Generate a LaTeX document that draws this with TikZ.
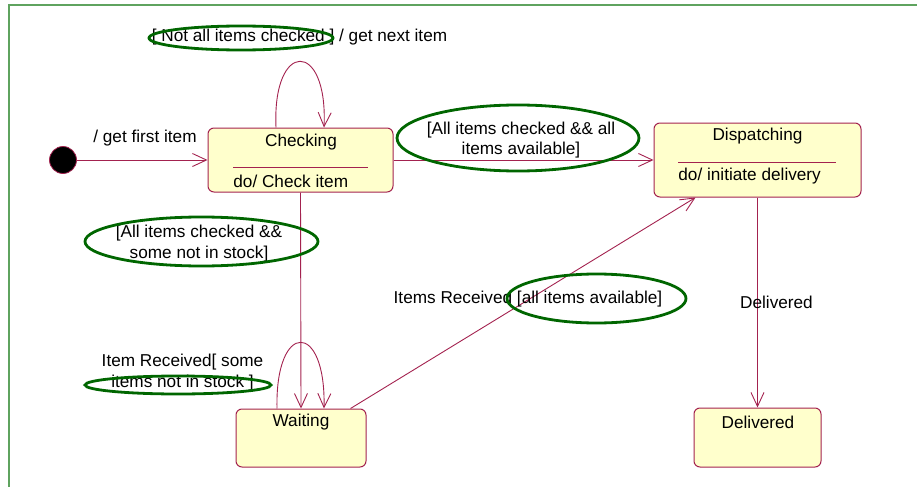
\documentclass[tikz,border=0pt]{standalone}
\usepackage{fontspec}
\setmainfont{Liberation Sans}
\usetikzlibrary{calc, shapes.geometric, arrows.meta}
\definecolor{StateFill}{HTML}{FFFFCC}
\definecolor{StateLine}{HTML}{A3224F}
\definecolor{GuardGreen}{HTML}{006600}
\definecolor{FrameGreen}{HTML}{5FA35F}
\tikzset{
    statebox/.style={draw=StateLine, fill=StateFill, rounded corners=3pt, line width=0.5pt, inner sep=0pt},
    trans/.style={draw=StateLine, line width=0.45pt, -{Straight Barb[length=7pt, width=6.5pt]}},
    lbl/.style={font=\fontsize{8.6}{10.3}\selectfont, inner sep=0pt, align=center},
    guard/.style={ellipse, draw=GuardGreen, line width=1.4pt, inner sep=0pt},
}
\begin{document}
\begin{tikzpicture}[x=0.5pt, y=-0.5pt]
    % =========================================
    % 1. Frame
    % =========================================
    \useasboundingbox (0,0) rectangle (917,487);
    \draw[FrameGreen, line width=1pt] (9,487) -- (9,5) -- (917,5);

    % =========================================
    % 2. States
    % =========================================
    \node[circle, fill=black, draw=StateLine, inner sep=0pt, minimum size=13.5pt] (init) at (63,160) {};

    \node[statebox, minimum width=92.5pt, minimum height=32pt] (checking) at (300.5,160) {};
    \node[lbl] (checkingT) at (301,142) {Checking};
    \draw[StateLine, line width=0.4pt] (233,167) -- (368,167);
    \node[lbl, anchor=west] (checkingDo) at (233,181) {do/ Check item};

    \node[statebox, minimum width=103.5pt, minimum height=37pt] (dispatching) at (757.5,160) {};
    \node[lbl] (dispatchingT) at (757.5,136) {Dispatching};
    \draw[StateLine, line width=0.4pt] (678,162) -- (836,162);
    \node[lbl, anchor=west] (dispatchingDo) at (678,176) {do/ initiate delivery};

    \node[statebox, minimum width=65pt, minimum height=29pt] (waiting) at (301,438) {};
    \node[lbl] (waitingT) at (301,422) {Waiting};

    \node[statebox, minimum width=63.5pt, minimum height=29.5pt] (delivered) at (757.5,437.5) {};
    \node[lbl] (deliveredT) at (758,422) {Delivered};

    % =========================================
    % 3. Transitions
    % =========================================
    \draw[trans] (init) -- (checking);
    \draw[trans] (checking) -- (dispatching);
    \draw[trans] (checking.south) -- (waiting.north);
    \draw[trans] (dispatching) -- (delivered);
    \draw[trans] ([xshift=-8pt]waiting.north east) -- ([xshift=-31pt]dispatching.south);

    % self loops
    \draw[trans] ([xshift=-12.25pt]checking.north) .. controls +(-4,-88) and +(4,-88) .. ([xshift=11.75pt]checking.north);
    \draw[trans] ([xshift=-12pt]waiting.north) .. controls +(-2,-88) and +(2,-88) .. ([xshift=11.5pt]waiting.north);

    % labels
    \node[lbl] (lblFirst) at (145,138) {/ get first item};
    \node[lbl] (lblNext) at (299.5,37) {[ Not all items checked ] / get next item};
    \node[lbl] (lblAvail) at (521,140) {[All items checked \&\& all\\items available]};
    \node[lbl] (lblStock) at (199,243.5) {[All items checked \&\&\\some not in stock]};
    \node[lbl] (lblRecv) at (182.5,372.5) {Item Received[ some\\items not in stock ]};
    \node[lbl] (lblRecvAll) at (528,299) {Items Received [all items available]};
    \node[lbl] (lblDeliv) at (776.5,302) {Delivered};

    % =========================================
    % 4. Guard highlights
    % =========================================
    \node[guard, minimum width=92pt, minimum height=12pt] (g-1) at (241,38) {};
    \node[guard, minimum width=121pt, minimum height=33pt] (g-2) at (518,138) {};
    \node[guard, minimum width=116.5pt, minimum height=24.5pt] (g-3) at (201.5,241.5) {};
    \node[guard, minimum width=93pt, minimum height=9pt] (g-4) at (178,385) {};
    \node[guard, minimum width=89.5pt, minimum height=24.5pt] (g-5) at (596.5,298.5) {};

\end{tikzpicture}
\end{document}
